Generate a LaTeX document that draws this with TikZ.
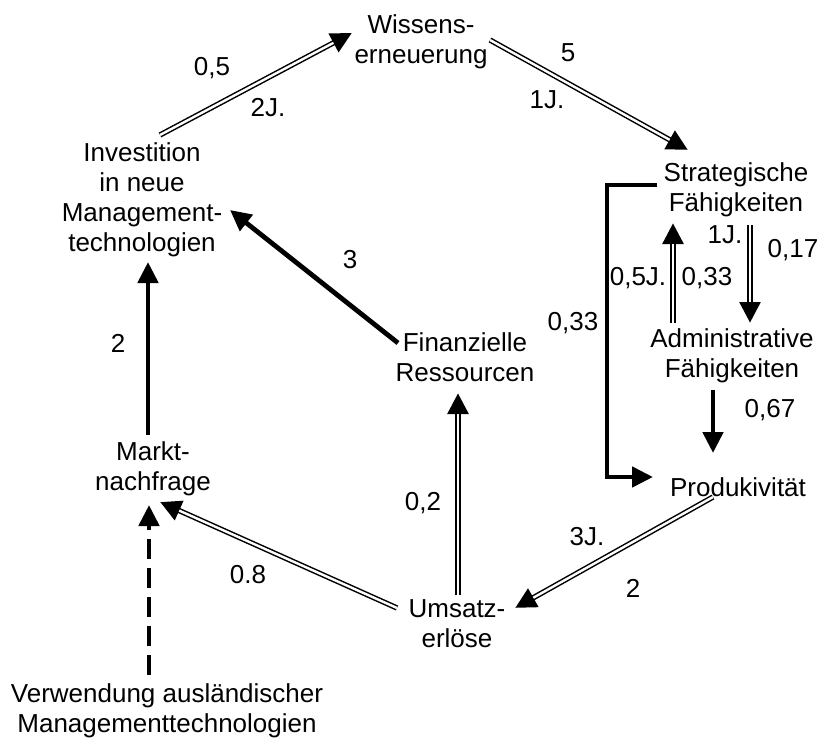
\documentclass[tikz,border=0pt]{standalone}
\usepackage{fontspec}
\setmainfont{Liberation Sans}
\usetikzlibrary{arrows.meta,calc}
% double-lined link: black body with filled tip, then a white core up to the tip base
\newcommand\dlink[2]{%
  \draw[dblouter] #1 -- #2;
  \draw[dblinner] #1 -- #2;}
\begin{document}
\begin{tikzpicture}[x=1pt,y=-1pt,
  box/.style={inner sep=0pt,align=center,font=\fontsize{26}{30}\selectfont},
  lbl/.style={inner sep=0pt,font=\fontsize{26}{30}\selectfont},
  tip/.style={-{Triangle[length=21pt,width=20pt]}},
  dblouter/.style={tip,line width=5.4pt},
  dblinner/.style={draw=white,line width=2.4pt,shorten >=21pt},
  bold/.style={tip,line width=4.8pt},
  dashline/.style={tip,line width=4.8pt,dash pattern=on 20pt off 9pt}]
\useasboundingbox (0,0) rectangle (824,738);
% factors
\node[box] (wis) at (421,42)  {Wissens-\\erneuerung};
\node[box] (inv) at (142,200) {Investition\\in neue\\Management-\\technologien};
\node[box] (str) at (736,190) {Strategische\\Fähigkeiten};
\node[box] (adm) at (732,356) {Administrative\\Fähigkeiten};
\node[box] (pro) at (738,487) {Produkivität};
\node[box] (fin) at (465,357) {Finanzielle\\Ressourcen};
\node[box] (mar) at (153,469) {Markt-\\nachfrage};
\node[box] (ums) at (457,624) {Umsatz-\\erlöse};
\node[box] (ver) at (167,711) {Verwendung ausländischer\\Managementtechnologien};
% links
\dlink{($(inv)+(18,-65)$)}{($(wis)+(-69,-9)$)}
\dlink{($(wis)+(69,-2)$)}{($(str)+(-48,-40)$)}
\dlink{($(str)+(14,35)$)}{($(adm)+(18,-33)$)}
\dlink{($(adm)+(-59,-33)$)}{($(str)+(-63,33)$)}
\draw[bold] ($(adm)+(-19,34)$) -- ($(pro)+(-25,-34)$);
\draw[bold] ($(str)+(-79,-5)$) -- ++(-50,0) |- ($(pro)+(-85,-10)$);
\dlink{($(pro)+(-25,10)$)}{($(ums)+(58,-16)$)}
\dlink{($(ums)+(1,-29)$)}{($(fin)+(-7,36)$)}
\dlink{($(ums)+(-60,-16)$)}{($(mar)+(7,33)$)}
\draw[bold] ($(fin)+(-67,-14)$) -- ($(inv)+(88,10)$);
\draw[bold] ($(mar)+(-5,-34)$) -- ($(inv)+(6,62)$);
\draw[dashline] ($(ver)+(-18,-36)$) -- ($(mar)+(-4,36)$);
% weights and delays
\node[lbl] (l1)  at (212,68)  {0,5};
\node[lbl] (l2)  at (268,108) {2J.};
\node[lbl] (l3)  at (568,53)  {5};
\node[lbl] (l4)  at (547,100) {1J.};
\node[lbl] (l5)  at (725,235) {1J.};
\node[lbl] (l6)  at (793,250) {0,17};
\node[lbl] (l7)  at (638,278) {0,5J.};
\node[lbl] (l8)  at (707,278) {0,33};
\node[lbl] (l9)  at (770,410) {0,67};
\node[lbl] (l10) at (573,323) {0,33};
\node[lbl] (l11) at (587,537) {3J.};
\node[lbl] (l12) at (633,588) {2};
\node[lbl] (l13) at (423,503) {0,2};
\node[lbl] (l14) at (248,575) {0.8};
\node[lbl] (l15) at (350,260) {3};
\node[lbl] (l16) at (118,343) {2};
\end{tikzpicture}
\end{document}
